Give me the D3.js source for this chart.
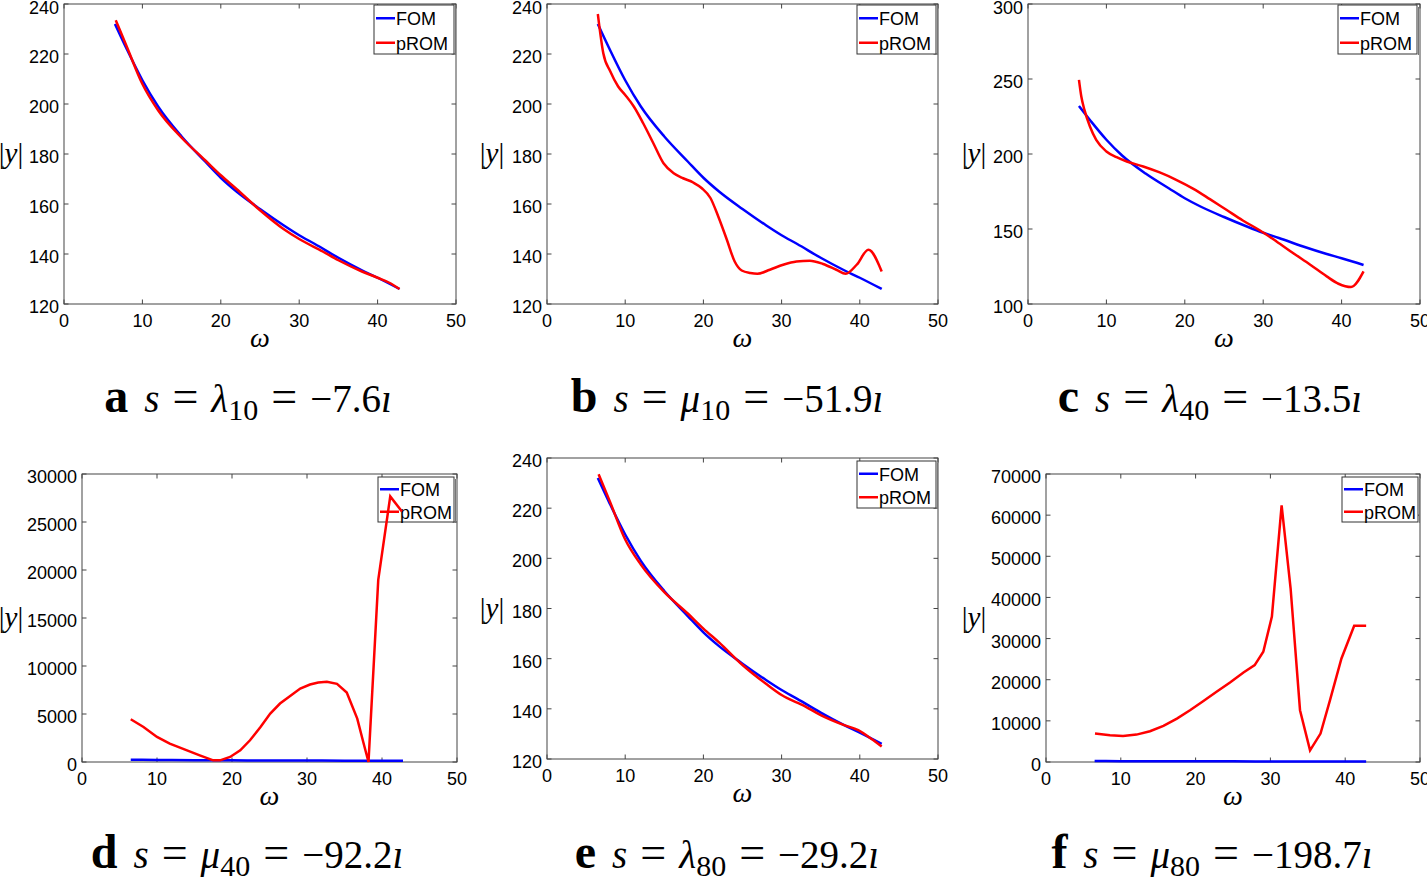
<!DOCTYPE html>
<html><head><meta charset="utf-8">
<script src="https://cdn.jsdelivr.net/npm/d3@7"></script>
<style>body{margin:0;background:#fff}</style>
</head><body>
<svg id="chart" width="1427" height="878"></svg>
<script>
// ---------- data (omega, |y|) ----------
const fom = [[6.5,232],[8,222],[10,209.5],[12,199],[15,187],[18,177],[20,170.5],[22,165],[25,158],[28,151.5],[30,147.5],[32,144],[35,138.5],[38,133.5],[40,130.5],[42.8,126]];
const promA = [[6.6,233.5],[8,223],[10,208],[12,197.5],[15,186.5],[18,177.5],[20,171.5],[22,166],[25,157.5],[28,150],[30,146],[33,141],[35,137.5],[38,133],[40,130.5],[41.5,128.5],[42.8,126]];
const promB = [[6.5,236],[7.2,220.3],[8.1,213],[9.1,207],[10,203.6],[11.1,199],[12.3,192.3],[13.6,184.3],[14.9,176.3],[16.2,172.3],[17.4,170.3],[18.7,168.6],[19.8,166.3],[20.9,162.4],[21.9,155],[23,145.7],[24,137],[24.9,133.4],[26,132.4],[26.9,132.1],[28.5,133.7],[30.2,135.7],[31.9,137],[33.6,137.3],[35.3,136],[37,133.7],[38.2,132.1],[39.6,135.7],[41.1,141.7],[42.8,133]];
const promC = [[6.5,249.4],[6.8,238.3],[7.2,229.4],[7.9,218.3],[8.7,209.4],[10,201.7],[11.3,197.9],[12.6,195],[14.7,191.7],[16.8,187.7],[18.9,182.8],[21.1,176.8],[23.2,169.9],[25.3,162.8],[27.4,155.7],[29.6,149],[31.7,141.7],[33.8,134],[36,126.2],[38.1,118.4],[39.6,113.5],[41.2,111.3],[42.8,121.8]];
const promD = [[6.5,4455],[8.2,3654],[10,2610],[11.7,1914],[14,1218],[15.7,696],[17.5,174],[18.4,174],[19.75,522],[21.1,1218],[22.4,2262],[23.8,3654],[25.1,5046],[26.4,6090],[27.8,6891],[29.1,7657],[30.4,8074],[31.5,8283],[32.65,8353],[34,8144],[35.3,7239],[36.7,4524],[37.5,2088],[38.2,0],[39.5,18967],[41.1,27668],[42.65,26102]];
const promE = [[6.6,233.5],[8,223],[10,207.5],[12,197.5],[15,186.5],[18,178],[20,172],[22,166.5],[25,157.5],[28,150],[30,145.5],[33,141],[35,137.5],[38,133.5],[39.8,131.5],[41.5,128],[42.8,125]];
const promF = [[6.55,6903],[8.56,6497],[10.3,6334],[12.1,6659],[13.9,7471],[15.7,8771],[17.5,10557],[19.25,12587],[21,14780],[22.8,17054],[24.6,19328],[26.4,21764],[27.9,23550],[29.05,26799],[30.2,35326],[31.5,62368],[32.7,42228],[33.96,12587],[35.3,2842],[36.7,6903],[37.97,15024],[39.5,25174],[41.2,33133],[42.8,33133]];

const xTicks = [0,10,20,30,40,50];
const yTicks120 = [120,140,160,180,200,220,240];
const yTicks100 = [100,150,200,250,300];
const yTicksD = [0,5000,10000,15000,20000,25000,30000];
const yTicksF = [0,10000,20000,30000,40000,50000,60000,70000];
const seriesNames = ["FOM","pROM"];
const captions = [
  {letter:"a", sym:"λ", sub:"10", val:"−7.6"},
  {letter:"b", sym:"μ", sub:"10", val:"−51.9"},
  {letter:"c", sym:"λ", sub:"40", val:"−13.5"},
  {letter:"d", sym:"μ", sub:"40", val:"−92.2"},
  {letter:"e", sym:"λ", sub:"80", val:"−29.2"},
  {letter:"f", sym:"μ", sub:"80", val:"−198.7"}
];

// ---------- layout ----------
const panels = [
  {prom:promA, yt:yTicks120, box:[64,4,456,304], leg:[374,5,454,54], ylab:11, cap:[248,412], smooth:true},
  {prom:promB, yt:yTicks120, box:[547,4,938,304], leg:[857,5,936,54], ylab:492, cap:[727,412], smooth:true},
  {prom:promC, yt:yTicks100, box:[1028,4,1420,304], leg:[1338,5,1417,54], ylab:974, cap:[1210,412], smooth:true},
  {prom:promD, yt:yTicksD, box:[82,474,457,762], leg:[378,477,454,522], ylab:11, cap:[247,868], smooth:false},
  {prom:promE, yt:yTicks120, box:[547,458,938,759], leg:[857,461,936,508], ylab:492, cap:[727,868], smooth:true},
  {prom:promF, yt:yTicksF, box:[1046,474,1420,762], leg:[1342,477,1418,522], ylab:974, cap:[1212,868], smooth:false}
];
const colors = ["#0000ff","#ff0000"];
const svg = d3.select("#chart");
const sans = "Liberation Sans, Arial, sans-serif";
const serif = "Liberation Serif, Times New Roman, serif";

panels.forEach((p,i)=>{
  const [L,T,R,B] = p.box;
  const x = d3.scaleLinear().domain([0,50]).range([L,R]);
  const y = d3.scaleLinear().domain([p.yt[0], p.yt[p.yt.length-1]]).range([B,T]);
  const g = svg.append("g");
  const tk = 4.5;
  xTicks.forEach(v=>{
    g.append("line").attr("x1",x(v)).attr("x2",x(v)).attr("y1",B).attr("y2",B-tk).attr("stroke","#444");
    g.append("line").attr("x1",x(v)).attr("x2",x(v)).attr("y1",T).attr("y2",T+tk).attr("stroke","#444");
    g.append("text").attr("x",x(v)).attr("y",B+23).attr("text-anchor","middle")
      .attr("font-family",sans).attr("font-size",18).text(v);
  });
  p.yt.forEach(v=>{
    g.append("line").attr("x1",L).attr("x2",L+tk).attr("y1",y(v)).attr("y2",y(v)).attr("stroke","#444");
    g.append("line").attr("x1",R).attr("x2",R-tk).attr("y1",y(v)).attr("y2",y(v)).attr("stroke","#444");
    g.append("text").attr("x",L-5).attr("y",Math.max(y(v)+9, 14)).attr("text-anchor","end")
      .attr("font-family",sans).attr("font-size",18).text(v);
  });
  g.append("rect").attr("x",L).attr("y",T).attr("width",R-L).attr("height",B-T)
    .attr("fill","none").attr("stroke","#444").attr("stroke-width",1);

  // legend (drawn below the curves)
  const [lx0,ly0,lx1,ly1] = p.leg;
  g.append("rect").attr("x",lx0).attr("y",ly0).attr("width",lx1-lx0).attr("height",ly1-ly0)
    .attr("fill","#fff").attr("stroke","#333").attr("stroke-width",1);
  g.append("line").attr("x1",lx1+1.5).attr("x2",lx1+1.5).attr("y1",ly0+2).attr("y2",ly1+1).attr("stroke","#777");
  const rowH = (ly1-ly0)/2;
  seriesNames.forEach((n,k)=>{
    const cy = ly0 + rowH*(k+0.5) + 1;
    g.append("line").attr("x1",lx0+2).attr("x2",lx0+21).attr("y1",cy).attr("y2",cy)
      .attr("stroke",colors[k]).attr("stroke-width",2.5);
    g.append("text").attr("x",lx0+22).attr("y",cy+7).attr("font-family",sans).attr("font-size",18).text(n);
  });

  // curves
  const line = d3.line().x(d=>x(d[0])).y(d=>y(d[1]))
    .curve(p.smooth ? d3.curveMonotoneX : d3.curveLinear);
  [fom, p.prom].forEach((data,k)=>{
    g.append("path").attr("d",line(data)).attr("fill","none")
      .attr("stroke",colors[k]).attr("stroke-width",2.5).attr("stroke-linejoin","miter");
  });

  // axis labels
  const my = (T+B)/2;
  const yl = g.append("text").attr("x",p.ylab).attr("y",my+9).attr("text-anchor","middle")
    .attr("font-family",serif).attr("font-size",29);
  yl.append("tspan").text("|");
  yl.append("tspan").attr("font-style","italic").text("y");
  yl.append("tspan").text("|");
  g.append("text").attr("x",(L+R)/2).attr("y",B+43).attr("text-anchor","middle")
    .attr("font-family",serif).attr("font-style","italic").attr("font-size",28).text("ω");

  // caption
  const c = captions[i];
  const t = g.append("text").attr("x",p.cap[0]).attr("y",p.cap[1]).attr("text-anchor","middle")
    .attr("font-family",serif).attr("font-size",39);
  t.append("tspan").attr("font-weight","bold").attr("font-size",48).text(c.letter);
  t.append("tspan").attr("dx",16).attr("font-style","italic").text("s");
  t.append("tspan").attr("dx",13).attr("font-size",46).text("=");
  t.append("tspan").attr("dx",13).attr("font-style","italic").text(c.sym);
  t.append("tspan").attr("dy",8).attr("font-size",30).text(c.sub);
  t.append("tspan").attr("dy",-8).attr("dx",13).attr("font-size",46).text("=");
  t.append("tspan").attr("dx",13).text(c.val);
  t.append("tspan").attr("font-style","italic").text("ı");
});
</script>
</body></html>
